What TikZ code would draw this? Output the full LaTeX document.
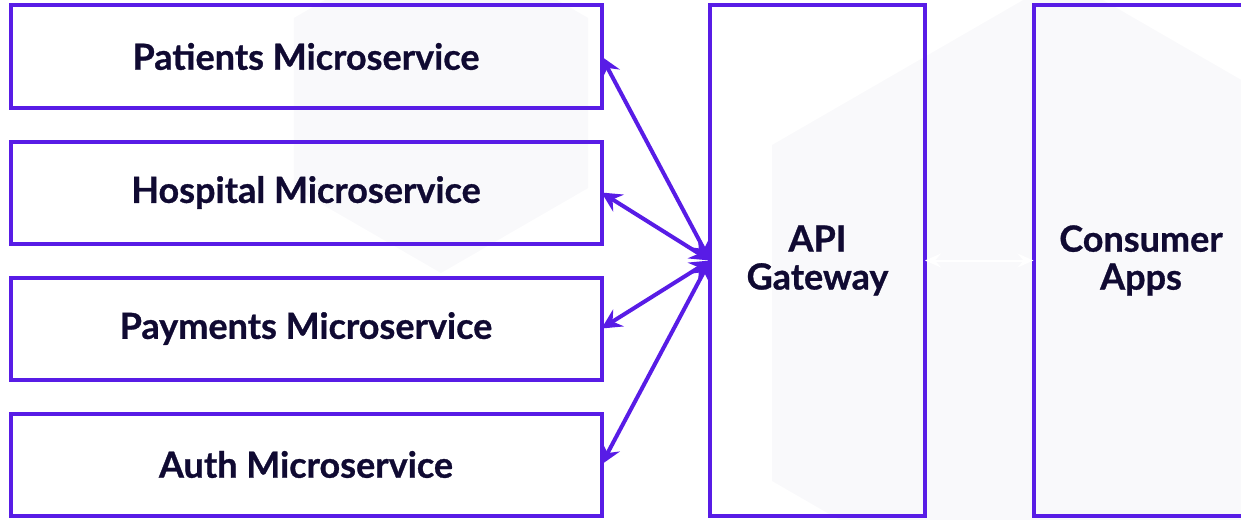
\documentclass[tikz,border=0pt]{standalone}
\usepackage{fontspec}
\setmainfont{Lato}[BoldFeatures={FakeBold=0.8}]
\usetikzlibrary{arrows.meta}
\definecolor{violet}{RGB}{88,28,230}
\definecolor{inkblue}{RGB}{16,10,50}
\definecolor{hexgrey}{RGB}{249,249,251}
\tikzset{
  svcbox/.style={draw=violet,line width=4pt,minimum width=591pt,minimum height=102pt,
    outer sep=0pt,font=\fontsize{36}{38}\selectfont\bfseries,text=inkblue},
  tallbox/.style={draw=violet,line width=4pt,minimum width=215pt,minimum height=510pt,
    outer sep=0pt,align=center,font=\fontsize{36}{38}\selectfont\bfseries,text=inkblue},
  link/.style={violet,line width=4pt,{Stealth[length=20pt,width=20pt,inset=7pt]}-{Stealth[length=20pt,width=20pt,inset=7pt]}},
}
\begin{document}
\begin{tikzpicture}[x=1pt,y=-1pt]
   \useasboundingbox (0,0) rectangle (1241,519);
   % Background hexagons
   \fill[hexgrey] (441,103) +(30:170) -- +(90:170) -- +(150:170) -- +(210:170) -- +(270:170) -- +(330:170) -- cycle;
   \fill[hexgrey] (1063,313) +(30:336) -- +(90:336) -- +(150:336) -- +(210:336) -- +(270:336) -- +(330:336) -- cycle;
   % Microservices
   \node[svcbox] (patients) at (306,56.5) {Patients Microservice};
   \node[svcbox] (hospital) at (306,192.5) {Hospital Microservice};
   \node[svcbox] (payments) at (306,328.5) {Payments Microservice};
   \node[svcbox] (auth) at (306,464.5) {Auth Microservice};
   % Gateway and apps
   \node[tallbox] (gateway) at (817.5,260.5) {API\\Gateway};
   \node[tallbox] (consumer) at (1141,260.5) {Consumer\\Apps};
   % Links
   \foreach \svc in {patients,hospital,payments,auth}
      \draw[link] (\svc.east) -- (gateway.west);
   \draw[white,line width=2pt,{Stealth[length=16pt,width=14pt,inset=6pt]}-{Stealth[length=16pt,width=14pt,inset=6pt]}] (gateway.east) -- (consumer.west);
\end{tikzpicture}
\end{document}
